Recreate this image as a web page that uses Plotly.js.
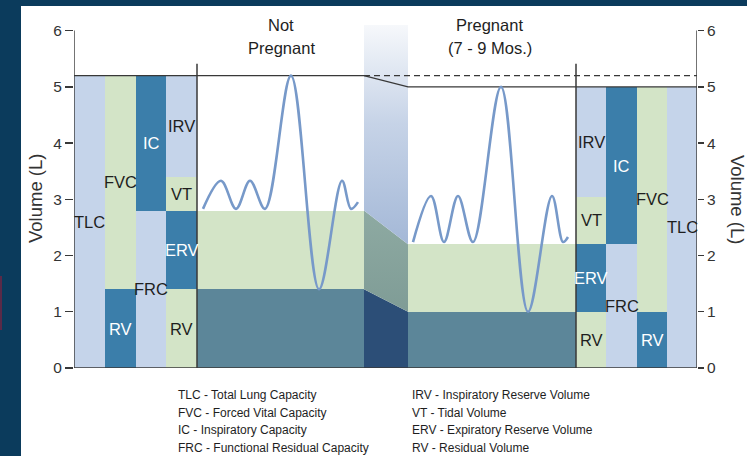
<!DOCTYPE html>
<html><head><meta charset="utf-8">
<script src="https://cdn.plot.ly/plotly-3.0.1.min.js"></script>
<style>
html,body{margin:0;padding:0;background:#0b3b5c;width:747px;height:456px;overflow:hidden;}
#chart{position:absolute;left:21px;top:6px;width:726px;height:450px;}
#mark{position:absolute;left:0;top:276px;width:2px;height:54px;background:#5a2a48;}
</style></head><body>
<div id="mark"></div>
<div id="chart"></div>
<script>
// ---- data: lung volumes (L) for [Not Pregnant, Pregnant 7-9 mos] ----
const states = ['Not Pregnant', 'Pregnant (7 - 9 Mos.)'];
const stateTitleLines = [['Not', 'Pregnant'], ['Pregnant', '(7 - 9 Mos.)']];
const rv = [1.4, 1.0];        // residual volume top
const frc = [2.8, 2.2];       // functional residual capacity top
const tidalTop = [3.4, 3.05]; // end-inspiration (VT top)
const tlc = [5.2, 5.0];       // total lung capacity

// breathing traces (horizontal position, volume)
const npBreathT = [129, 147, 162, 176, 191, 217, 245, 268, 277, 284];
const npBreathV = [2.83, 3.33, 2.83, 3.33, 2.83, 5.2, 1.4, 3.33, 2.83, 2.95];
const pBreathT = [339, 357, 370, 384, 399, 427, 454, 478, 489, 494];
const pBreathV = [2.24, 3.06, 2.24, 3.06, 2.24, 5.0, 1.0, 3.06, 2.24, 2.33];

const yTicks = [0, 1, 2, 3, 4, 5, 6];
const legendLeft = ['TLC - Total Lung Capacity', 'FVC - Forced Vital Capacity', 'IC - Inspiratory Capacity', 'FRC - Functional Residual Capacity'];
const legendRight = ['IRV - Inspiratory Reserve Volume', 'VT - Tidal Volume', 'ERV - Expiratory Reserve Volume', 'RV - Residual Volume'];

// ---- layout geometry (horizontal positions) ----
const leftCols = [[0, 31], [31, 62], [62, 92], [92, 123]];
const rightCols = [[502, 532], [532, 563], [563, 593], [593, 623]];
const regions = [[123, 290], [334, 502]];
const trans = [290, 334];
const XMAX = 623;

const C = {lb: '#c5d4ea', lg: '#d3e4c7', sb: '#3b7eaa', teal: '#5c8699', navy: '#2c4e77', tgreen: '#88a49c', line: '#383838', wave: '#7799c9'};
const SANS = '"Liberation Sans", Arial, sans-serif';

// column patterns (bottom -> top): [lowKey, highKey, color, label, textColor]
function colSegments(i) {
  const lv = {zero: 0, rv: rv[i], frc: frc[i], vt: tidalTop[i], tlc: tlc[i]};
  return [
    [['zero', 'tlc', 'lb', 'TLC', '#1e1e1e']],
    [['zero', 'rv', 'sb', 'RV', '#ffffff'], ['rv', 'tlc', 'lg', 'FVC', '#1e1e1e']],
    [['zero', 'frc', 'lb', 'FRC', '#1e1e1e'], ['frc', 'tlc', 'sb', 'IC', '#ffffff']],
    [['zero', 'rv', 'lg', 'RV', '#1e1e1e'], ['rv', 'frc', 'sb', 'ERV', '#ffffff'], ['frc', 'vt', 'lg', 'VT', '#1e1e1e'], ['vt', 'tlc', 'lb', 'IRV', '#1e1e1e']]
  ].map(col => col.map(s => ({lo: lv[s[0]], hi: lv[s[1]], color: s[2], label: s[3], tc: s[4]})));
}

const bars = {lb: {x: [], w: [], b: [], y: []}, lg: {x: [], w: [], b: [], y: []}, sb: {x: [], w: [], b: [], y: []}};
const annotations = [];
function addCol(edges, segs) {
  const cx = (edges[0] + edges[1]) / 2, w = edges[1] - edges[0];
  segs.forEach(s => {
    const B = bars[s.color];
    B.x.push(cx); B.w.push(w); B.b.push(s.lo); B.y.push(s.hi - s.lo);
    annotations.push({x: cx, y: (s.lo + s.hi) / 2, xref: 'x', yref: 'y', xanchor: 'center', yanchor: 'middle', text: s.label, showarrow: false,
      font: {family: SANS, size: 16.5, color: s.tc}});
  });
}
const npSegs = colSegments(0), pSegs = colSegments(1);
leftCols.forEach((e, k) => addCol(e, npSegs[k]));
rightCols.forEach((e, k) => addCol(e, pSegs[3 - k]));

const traces = [];
Object.keys(bars).forEach(k => {
  const B = bars[k];
  traces.push({type: 'bar', x: B.x, y: B.y, base: B.b, width: B.w, marker: {color: C[k], line: {width: 0}}, hoverinfo: 'skip', showlegend: false});
});
// main region areas
const rx = regions.map(r => (r[0] + r[1]) / 2), rw = regions.map(r => r[1] - r[0]);
traces.push({type: 'bar', x: rx, width: rw, base: [0, 0], y: rv, marker: {color: C.teal, line: {width: 0}}, hoverinfo: 'skip', showlegend: false});
traces.push({type: 'bar', x: rx, width: rw, base: rv, y: frc.map((f, i) => f - rv[i]), marker: {color: C.lg, line: {width: 0}}, hoverinfo: 'skip', showlegend: false});

// transition band
traces.push({type: 'scatter', mode: 'lines', x: [trans[0], trans[0], trans[1], trans[1]], y: [0, rv[0], rv[1], 0], fill: 'toself', fillcolor: C.navy, line: {width: 0}, hoverinfo: 'skip', showlegend: false});
traces.push({type: 'scatter', mode: 'lines', x: [trans[0], trans[0], trans[1], trans[1]], y: [rv[0], frc[0], frc[1], rv[1]], fill: 'toself',
  fillgradient: {type: 'vertical', colorscale: [[0, '#7f9c96'], [1, '#8eaaa2']]}, line: {width: 0}, hoverinfo: 'skip', showlegend: false});
traces.push({type: 'scatter', mode: 'lines', x: [trans[0], trans[0], trans[1], trans[1]], y: [frc[0], 6.1, 6.1, frc[1]], fill: 'toself',
  fillgradient: {type: 'vertical', colorscale: [[0, '#a4b8d7'], [0.55, '#c6d3e7'], [1, '#f6f8fb']]}, line: {width: 0}, hoverinfo: 'skip', showlegend: false});

// TLC line and dashed reference
traces.push({type: 'scatter', mode: 'lines', x: [0, trans[0], trans[1], XMAX], y: [tlc[0], tlc[0], tlc[1], tlc[1]], line: {color: C.line, width: 1.4}, hoverinfo: 'skip', showlegend: false});
traces.push({type: 'scatter', mode: 'lines', x: [trans[0], XMAX], y: [tlc[0], tlc[0]], line: {color: C.line, width: 1.4, dash: '6px,4px'}, hoverinfo: 'skip', showlegend: false});
// separators
[regions[0][0], regions[1][1]].forEach(xv => traces.push({type: 'scatter', mode: 'lines', x: [xv, xv], y: [0, 5.41], line: {color: C.line, width: 1.5}, hoverinfo: 'skip', showlegend: false}));
// axis lines
traces.push({type: 'scatter', mode: 'lines', x: [0, 0, null, XMAX, XMAX, null, 0, XMAX], y: [0, 6, null, 0, 6, null, 0, 0], line: {color: C.line, width: 1.4}, hoverinfo: 'skip', showlegend: false, cliponaxis: false});
// breathing waves
traces.push({type: 'scatter', mode: 'lines', x: npBreathT, y: npBreathV, line: {color: C.wave, width: 2.6, shape: 'spline', smoothing: 1}, hoverinfo: 'skip', showlegend: false});
traces.push({type: 'scatter', mode: 'lines', x: pBreathT, y: pBreathV, line: {color: C.wave, width: 2.6, shape: 'spline', smoothing: 1}, hoverinfo: 'skip', showlegend: false});
// right axis carrier
traces.push({type: 'scatter', mode: 'lines', x: [0], y: [0], yaxis: 'y2', line: {width: 0}, hoverinfo: 'skip', showlegend: false});

// titles (paper coords: line centres)
const titleX = [0.3323, 0.6677];
const titleLineY = [1.0, 0.933];
stateTitleLines.forEach((lines, i) => lines.forEach((t, j) => annotations.push({x: titleX[i], y: titleLineY[j], xref: 'paper', yref: 'paper',
  xanchor: 'center', yanchor: 'middle', text: t, showarrow: false, font: {family: SANS, size: 16.5, color: '#1e1e1e'}})));
// legend text
const legYs = [-0.0787, -0.1312, -0.1808, -0.2332];
legendLeft.forEach((t, i) => annotations.push({x: 0.1637, y: legYs[i], xref: 'paper', yref: 'paper', xanchor: 'left', yanchor: 'middle', text: t, showarrow: false, font: {family: SANS, size: 12, color: '#1e1e1e'}}));
legendRight.forEach((t, i) => annotations.push({x: 0.5393, y: legYs[i], xref: 'paper', yref: 'paper', xanchor: 'left', yanchor: 'middle', text: t, showarrow: false, font: {family: SANS, size: 12, color: '#1e1e1e'}}));
// axis titles
annotations.push({x: -0.0626, y: 0.4927, xref: 'paper', yref: 'paper', xanchor: 'center', yanchor: 'middle', text: 'Volume (L)', textangle: -90, showarrow: false, font: {family: SANS, size: 18.5, color: '#333'}});
annotations.push({x: 1.0642, y: 0.49, xref: 'paper', yref: 'paper', xanchor: 'center', yanchor: 'middle', text: 'Volume (L)', textangle: 90, showarrow: false, font: {family: SANS, size: 18.5, color: '#333'}});

const yax = {range: [0, 6.1], tickvals: yTicks, ticktext: yTicks.map(String), ticks: 'outside', ticklen: 8, tickwidth: 1.4, tickcolor: C.line,
  showgrid: false, zeroline: false, showline: false, tickfont: {family: SANS, size: 15.5, color: '#333'}, fixedrange: true};
const layout = {
  width: 726, height: 450, margin: {l: 53, r: 50, t: 19, b: 88}, paper_bgcolor: '#ffffff', plot_bgcolor: 'rgba(0,0,0,0)',
  barmode: 'overlay', bargap: 0, showlegend: false,
  xaxis: {range: [0, XMAX], visible: false, fixedrange: true},
  yaxis: yax,
  yaxis2: Object.assign({}, yax, {overlaying: 'y', side: 'right', ticklen: 6}),
  annotations: annotations
};
Plotly.newPlot('chart', traces, layout, {displayModeBar: false, staticPlot: true});
</script></body></html>
